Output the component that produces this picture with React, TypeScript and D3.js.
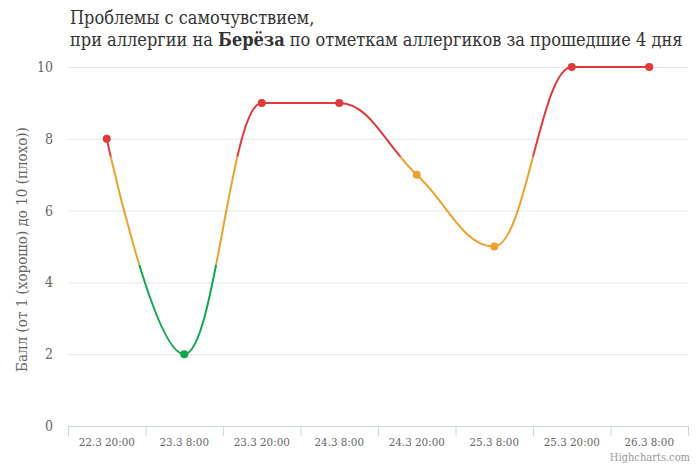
import React from "react";
import * as d3 from "d3";

const categories = ["22.3 20:00", "23.3 8:00", "23.3 20:00", "24.3 8:00", "24.3 20:00", "25.3 8:00", "25.3 20:00", "26.3 8:00"];
const values = [8, 2, 9, 9, 7, 5, 10, 10];
const yTicks = [0, 2, 4, 6, 8, 10];
const zoneLimits = [4.5, 7.5];
const zoneColors = ["#12a74b", "#efa12e", "#e2393b"];

const W = 700, H = 466;
const FONT = "'DejaVu Serif Condensed', 'DejaVu Serif', serif";
const left = 68, right = 688, top = 67, bottom = 426;

function zoneColor(v: number) {
  if (v < zoneLimits[0]) return zoneColors[0];
  if (v < zoneLimits[1]) return zoneColors[1];
  return zoneColors[2];
}

function splinePath(pts: [number, number][]) {
  const s = 1.5, denom = s + 1;
  const lc: ([number, number] | null)[] = [];
  const rc: ([number, number] | null)[] = [];
  pts.forEach((p, i) => {
    if (i > 0 && i < pts.length - 1) {
      const [x, y] = p;
      const [lx, ly] = pts[i - 1];
      const [nx, ny] = pts[i + 1];
      const lcx = (s * x + lx) / denom;
      let lcy = (s * y + ly) / denom;
      const rcx = (s * x + nx) / denom;
      let rcy = (s * y + ny) / denom;
      const corr = ((rcy - lcy) * (rcx - x)) / (rcx - lcx) + y - rcy;
      lcy += corr; rcy += corr;
      if (lcy > ly && lcy > y) { lcy = Math.max(ly, y); rcy = 2 * y - lcy; }
      else if (lcy < ly && lcy < y) { lcy = Math.min(ly, y); rcy = 2 * y - lcy; }
      if (rcy > ny && rcy > y) { rcy = Math.max(ny, y); lcy = 2 * y - rcy; }
      else if (rcy < ny && rcy < y) { rcy = Math.min(ny, y); lcy = 2 * y - rcy; }
      lc[i] = [lcx, lcy]; rc[i] = [rcx, rcy];
    } else { lc[i] = null; rc[i] = null; }
  });
  const path = d3.path();
  pts.forEach((p, i) => {
    if (i === 0) { path.moveTo(p[0], p[1]); return; }
    const a = rc[i - 1] || pts[i - 1];
    const b = lc[i] || p;
    path.bezierCurveTo(a[0], a[1], b[0], b[1], p[0], p[1]);
  });
  return path.toString();
}

export default function App() {
  const x = d3.scaleBand<string>().domain(categories).range([left, right]);
  const y = d3.scaleLinear().domain([0, 10]).range([bottom, top]);
  const pts: [number, number][] = values.map((v, i) => [x(categories[i])! + x.bandwidth() / 2, y(v)]);
  const d = splinePath(pts);
  const zoneBounds = [
    [y(zoneLimits[0]), H],
    [y(zoneLimits[1]), y(zoneLimits[0])],
    [0, y(zoneLimits[1])],
  ];
  const tickXs = categories.map((c) => x(c)!).concat([right]);
  return (
    <svg width={W} height={H} style={{ position: "absolute", left: 0, top: 0, fontFamily: FONT }}>
      <defs>
        {zoneBounds.map((b, i) => (
          <clipPath id={`zone${i}`} key={i}>
            <rect x={0} y={b[0]} width={W} height={b[1] - b[0]} />
          </clipPath>
        ))}
      </defs>
      <rect width={W} height={H} fill="#fff" />
      <text x={70} y={24} fontSize={18} fill="#333">Проблемы с самочувствием,</text>
      <text x={70} y={46} fontSize={18} fill="#333">
        при аллергии на <tspan fontWeight="bold">Берёза</tspan> по отметкам аллергиков за прошедшие 4 дня
      </text>
      {yTicks.map((t) => (
        <g key={t}>
          {t !== 0 && <line x1={left} x2={right} y1={y(t) + 0.5} y2={y(t) + 0.5} stroke="#e6e6e6" />}
          <text x={53} y={y(t) + 5} fontSize={14} fill="#666" textAnchor="end">{t}</text>
        </g>
      ))}
      <text transform={`translate(27,${(top + bottom) / 2 + 3}) rotate(-90)`} fontSize={15} fill="#666" textAnchor="middle">
        Балл (от 1 (хорошо) до 10 (плохо))
      </text>
      <line x1={left} x2={right} y1={bottom + 0.5} y2={bottom + 0.5} stroke="#ccd6eb" />
      {tickXs.map((tx, i) => (
        <line key={i} x1={tx + 0.5} x2={tx + 0.5} y1={bottom} y2={bottom + 10} stroke="#ccd6eb" />
      ))}
      {categories.map((c) => (
        <text key={c} x={x(c)! + x.bandwidth() / 2} y={bottom + 20} fontSize={11.5} fill="#666" textAnchor="middle">{c}</text>
      ))}
      {zoneColors.map((col, i) => (
        <path key={i} d={d} fill="none" stroke={col} strokeWidth={2} clipPath={`url(#zone${i})`} strokeLinecap="round" />
      ))}
      {values.map((v, i) => (
        <circle key={i} cx={pts[i][0]} cy={pts[i][1]} r={4} fill={zoneColor(v)} />
      ))}
      <text x={690} y={461} fontSize={11} fill="#999" textAnchor="end">Highcharts.com</text>
    </svg>
  );
}
